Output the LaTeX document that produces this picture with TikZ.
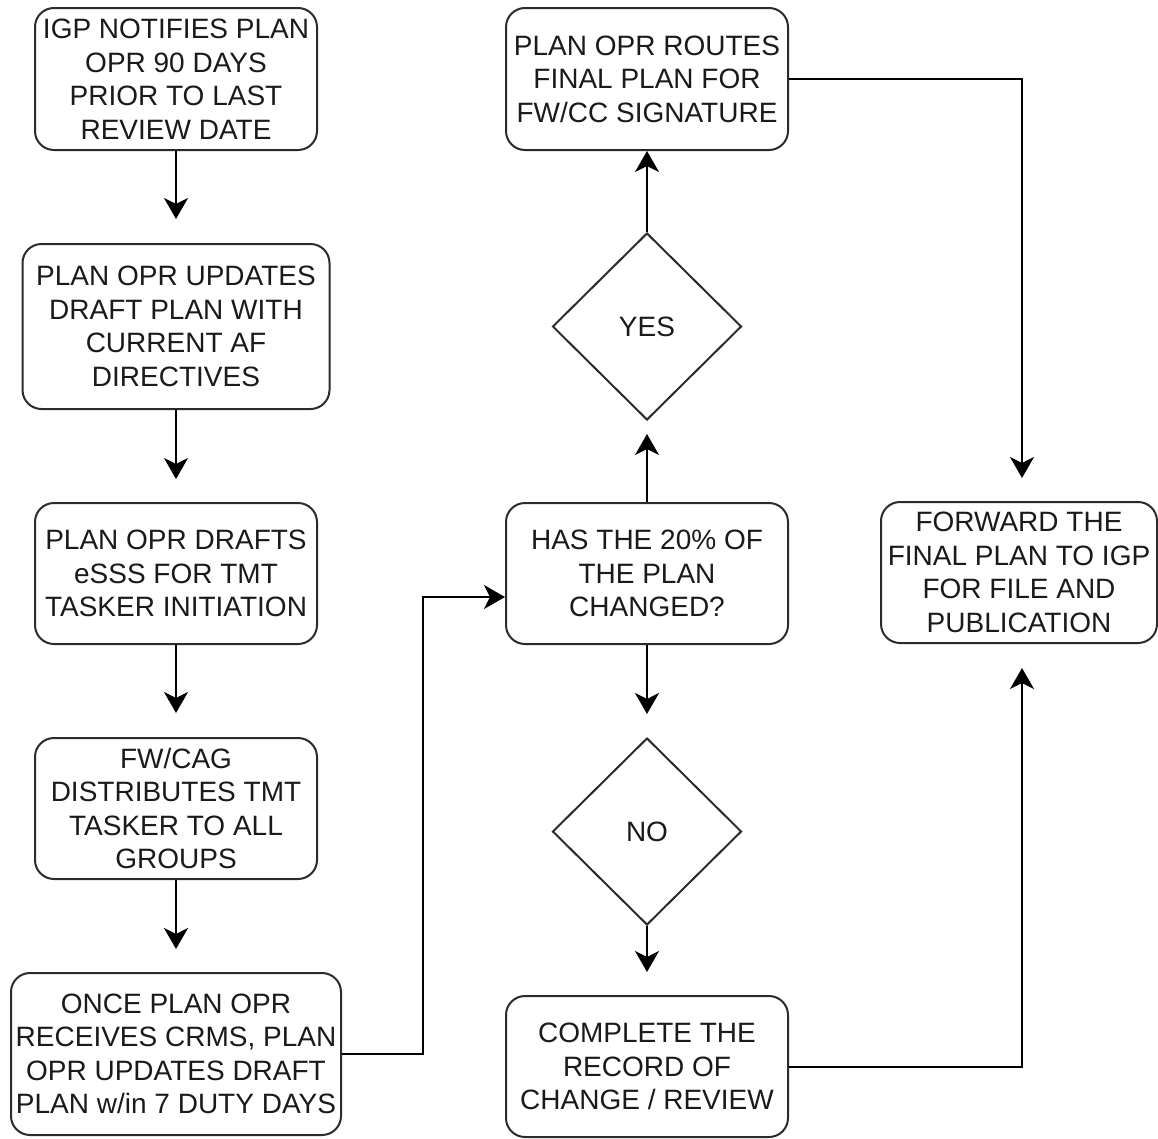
\documentclass[tikz,border=0pt]{standalone}
\usepackage{fontspec}
\setmainfont{Liberation Sans}
\usetikzlibrary{shapes.geometric,arrows.meta}
\definecolor{txt}{HTML}{1A1A1A}
\definecolor{edge}{HTML}{2B2B2B}
\begin{document}
\begin{tikzpicture}[x=1pt,y=-1pt,
  box/.style={draw=edge,line width=2pt,rounded corners=19pt,align=center,
    text=txt,font=\fontsize{28}{33.5}\selectfont,inner sep=0pt},
  dec/.style={draw=edge,line width=2pt,shape=diamond,align=center,
    text=txt,font=\fontsize{28}{33.5}\selectfont,inner sep=0pt,
    minimum width=189pt,minimum height=187pt},
  conn/.style={draw=black,line width=2pt,-{Stealth[length=21pt,width=24pt,inset=6pt]}},
  plain/.style={draw=black,line width=2pt}]
\useasboundingbox (0,0) rectangle (1158,1138);

\node[box,minimum width=282pt,minimum height=142pt] (n1) at (176,79)
  {IGP NOTIFIES PLAN\\OPR 90 DAYS\\PRIOR TO LAST\\REVIEW DATE};
\node[box,minimum width=307pt,minimum height=165pt] (n2) at (176,326.5)
  {PLAN OPR UPDATES\\DRAFT PLAN WITH\\CURRENT AF\\DIRECTIVES};
\node[box,minimum width=282pt,minimum height=141pt] (n3) at (176,573.5)
  {PLAN OPR DRAFTS\\eSSS FOR TMT\\TASKER INITIATION};
\node[box,minimum width=282pt,minimum height=141pt] (n4) at (176,808.5)
  {FW/CAG\\DISTRIBUTES TMT\\TASKER TO ALL\\GROUPS};
\node[box,minimum width=330pt,minimum height=162pt] (n5) at (176,1054)
  {ONCE PLAN OPR\\RECEIVES CRMS, PLAN\\OPR UPDATES DRAFT\\PLAN w/in 7 DUTY DAYS};

\node[box,minimum width=282pt,minimum height=142pt] (routes) at (647,79)
  {PLAN OPR ROUTES\\FINAL PLAN FOR\\FW/CC SIGNATURE};
\node[dec] (yes) at (647,326.5) {YES};
\node[box,minimum width=282pt,minimum height=141pt] (has) at (647,573.5)
  {HAS THE 20\% OF\\THE PLAN\\CHANGED?};
\node[dec] (no) at (647,831.5) {NO};
\node[box,minimum width=282pt,minimum height=141pt] (complete) at (647,1066.5)
  {COMPLETE THE\\RECORD OF\\CHANGE / REVIEW};
\node[box,minimum width=276pt,minimum height=141pt] (forward) at (1019,572.5)
  {FORWARD THE\\FINAL PLAN TO IGP\\FOR FILE AND\\PUBLICATION};

\coordinate (c12) at (176,219);
\coordinate (c23) at (176,479);
\coordinate (c34) at (176,713);
\coordinate (c45) at (176,949);
\coordinate (cy) at (647,434);
\coordinate (cn) at (647,714);
\coordinate (cc) at (647,972);
\coordinate (rt) at (1022,79);
\coordinate (rd) at (1022,478);
\coordinate (cb) at (1022,1066.5);
\coordinate (cu) at (1022,668);
\coordinate (lb) at (423,1054);
\coordinate (lt) at (423,597);

\draw[conn] (n1.south) -- (c12);
\draw[conn] (n2.south) -- (c23);
\draw[conn] (n3.south) -- (c34);
\draw[conn] (n4.south) -- (c45);
\draw[conn] (has.north) -- (cy);
\draw[conn] (yes.north) -- (routes.south);
\draw[conn] (has.south) -- (cn);
\draw[conn] (no.south) -- (cc);
\draw[conn] (routes.east) -- (rt) -- (rd);
\draw[conn] (complete.east) -- (cb) -- (cu);
\draw[conn] (n5.east) -- (lb) -- (lt) -- (lt -| has.west);
\end{tikzpicture}
\end{document}
